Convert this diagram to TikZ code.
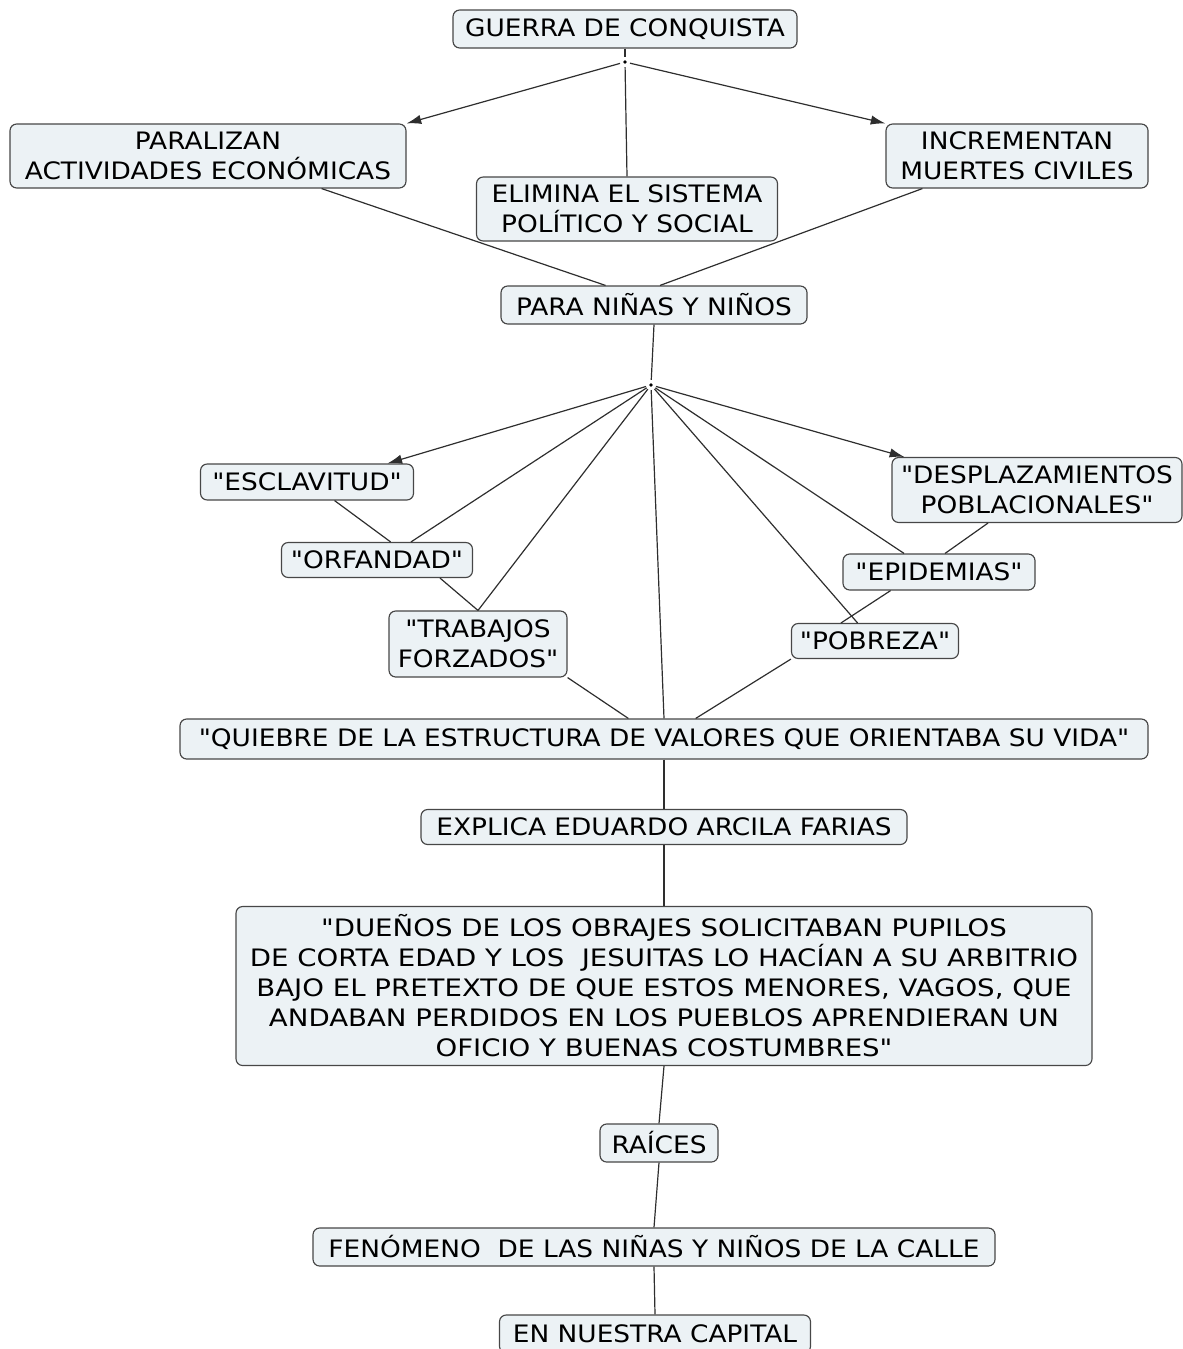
\documentclass[tikz,border=0pt]{standalone}
\usepackage{fontspec}
\newfontfamily\conceptfont{DejaVu Sans}[FakeStretch=1.1]
\newfontfamily\wideconceptfont{DejaVu Sans}[FakeStretch=1.15]
\usetikzlibrary{arrows.meta,calc}
\definecolor{boxfill}{HTML}{ECF2F5}
\definecolor{boxline}{HTML}{474747}
\definecolor{linkline}{HTML}{2E2E2E}
\begin{document}
\begin{tikzpicture}[x=0.75pt,y=-0.75pt,
  concept/.style={draw=boxline,line width=0.85pt,fill=boxfill,rounded corners=5pt,
    align=center,inner xsep=4pt,inner ysep=3pt,minimum height=28.5pt,text=black,
    font=\conceptfont\fontsize{18}{22.5}\selectfont},
  bw/.style={minimum width=#1*0.75pt},
  bh/.style={minimum height=#1*0.75pt},
  junction/.style={circle,fill=black,inner sep=0pt,minimum size=2.8pt,outer sep=2.5pt},
  link/.style={draw=linkline,line width=0.9pt},
  arrowlink/.style={link,-{Latex[length=11pt,width=7pt]}}]
\useasboundingbox (0,0) rectangle (1182,1349);

% concepts
\node[concept,bw=344] (g)  at (625,29)   {GUERRA DE CONQUISTA};
\node[concept,bw=396,bh=64] (pa) at (208,156)  {PARALIZAN\\ACTIVIDADES ECONÓMICAS};
\node[concept,bw=301,bh=64] (el) at (627,209)  {ELIMINA EL SISTEMA\\POLÍTICO Y SOCIAL};
\node[concept,bw=262,bh=64] (in) at (1017,156) {INCREMENTAN\\MUERTES CIVILES};
\node[concept,bw=306] (pn) at (654,305)  {PARA NIÑAS Y NIÑOS};
\node[concept,bw=213,bh=36] (es) at (307,482)  {"ESCLAVITUD"};
\node[concept,bw=191,bh=35] (or) at (377,560)  {"ORFANDAD"};
\node[concept,bw=178,bh=66] (tr) at (478,644)  {"TRABAJOS\\FORZADOS"};
\node[concept,bw=290,bh=65] (de) at (1037,490) {"DESPLAZAMIENTOS\\POBLACIONALES"};
\node[concept,bw=192,bh=36] (ep) at (939,572)  {"EPIDEMIAS"};
\node[concept,bw=167,bh=35] (po) at (875,641)  {"POBREZA"};
\node[concept,bw=968,bh=40] (q)  at (664,739)
  {"QUIEBRE DE LA ESTRUCTURA DE VALORES QUE ORIENTABA SU VIDA"};
\node[concept,bw=486,bh=35] (ex) at (664,827)  {EXPLICA EDUARDO ARCILA FARIAS};
\node[concept,bw=856,bh=159,font=\wideconceptfont\fontsize{18}{22.5}\selectfont] (bg) at (664,986)
  {"DUEÑOS DE LOS OBRAJES SOLICITABAN PUPILOS\\
  DE CORTA EDAD Y LOS~ JESUITAS LO HACÍAN A SU ARBITRIO\\
  BAJO EL PRETEXTO DE QUE ESTOS MENORES, VAGOS, QUE\\
  ANDABAN PERDIDOS EN LOS PUEBLOS APRENDIERAN UN\\
  OFICIO Y BUENAS COSTUMBRES"};
\node[concept,bw=118] (ra) at (659,1143) {RAÍCES};
\node[concept,bw=682] (fe) at (654,1247) {FENÓMENO~ DE LAS NIÑAS Y NIÑOS DE LA CALLE};
\node[concept,bw=311] (en) at (655,1334) {EN NUESTRA CAPITAL};

% linking points
\node[junction] (j1) at (625,62) {};
\node[junction] (j2) at (651,385) {};

% first level
\draw[link] (g.south) -- (j1);
\draw[arrowlink] (j1) -- (pa.north east);
\draw[link] (j1) -- (el.north);
\draw[arrowlink] (j1) -- (in.north west);
\draw[link] (pa.-16) -- (pn.158);
\draw[link] (in.-161) -- (pn.73);
\draw[link] (pn.south) -- (j2);

% consequences
\draw[arrowlink] (j2) -- (es.13);
\draw[link] (j2) -- (or.28);
\draw[link] (j2) -- (tr.north);
\draw[link] (j2) -- (q.north);
\draw[link] (j2) -- (po.134);
\draw[link] (j2) -- (ep.152);
\draw[arrowlink] (j2) -- (de.166);
\draw[link] (es.-34) -- (or.53);
\draw[link] (or.-16) -- (tr.north);
\draw[link] (tr.south east) -- (q.150);
\draw[link] (de.214) -- (ep.72);
\draw[link] (ep.201) -- (po.152);
\draw[link] (po.south west) -- (q.33);

% main chain
\draw[link] (q.south) -- (ex.north);
\draw[link] (ex.south) -- (bg.north);
\draw[link] (bg.south) -- (ra.north);
\draw[link] (ra.south) -- (fe.north);
\draw[link] (fe.south) -- (en.north);
\end{tikzpicture}
\end{document}
